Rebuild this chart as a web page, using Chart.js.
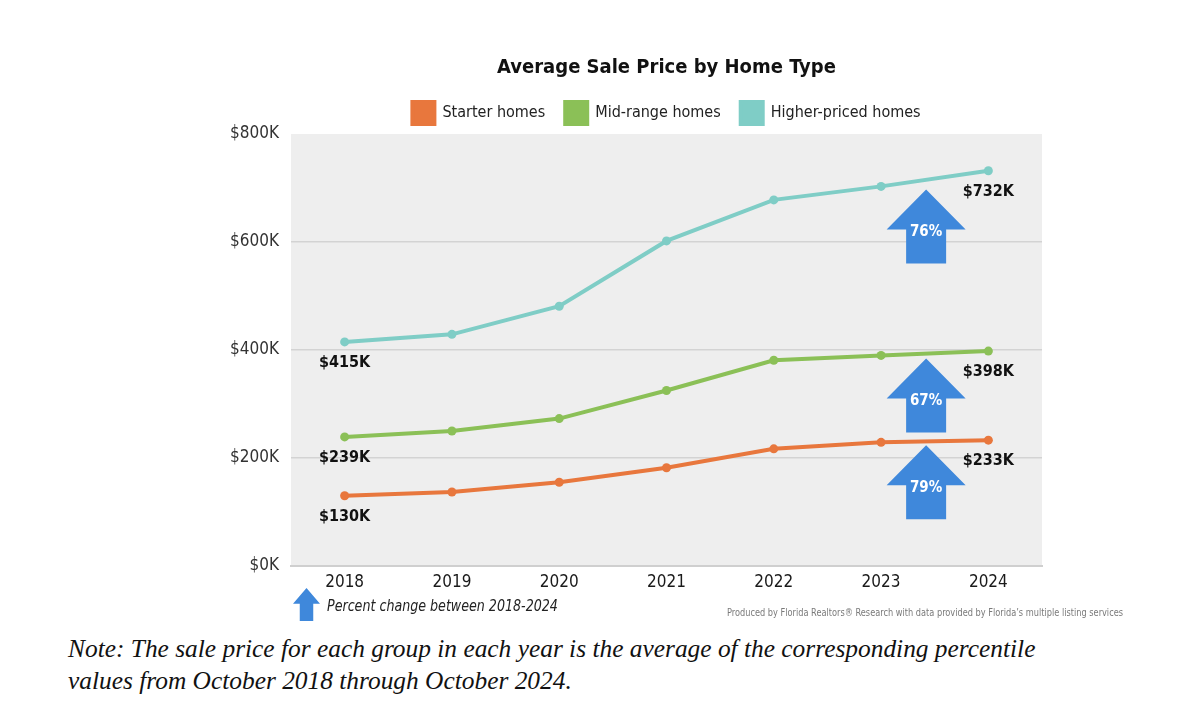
<!DOCTYPE html>
<html>
<head>
<meta charset="utf-8">
<script src="https://cdn.jsdelivr.net/npm/chart.js@4.4.1/dist/chart.umd.min.js"></script>
<style>
  html, body { margin: 0; padding: 0; background: #ffffff; }
  body { width: 1180px; height: 711px; position: relative; overflow: hidden; }
  #wrap { position: absolute; left: 0; top: 0; width: 1180px; height: 630px; }
  .narrow { font-family: 'Liberation Sans Narrow', 'Arial Narrow', 'DejaVu Sans Condensed', sans-serif; white-space: nowrap; transform-origin: 0 50%; }
  #pct { position: absolute; left: 327px; top: 596px; font-size: 16px; font-style: italic; color: #222; transform: scaleX(0.88); }
  #src { position: absolute; left: 727px; top: 606px; font-size: 10.5px; color: #7a7a7a; transform: scaleX(0.87); }
  #mini { position: absolute; left: 293px; top: 588px; width: 27px; height: 33px; background: #3f88db;
          clip-path: polygon(50% 0, 100% 48%, 75% 48%, 75% 100%, 25% 100%, 25% 48%, 0 48%); }
  #note { position: absolute; left: 68px; top: 632px; width: 1110px; font-family: 'Liberation Serif', 'Times New Roman', serif;
          font-style: italic; font-size: 25.4px; line-height: 32px; color: #111; white-space: nowrap; }
</style>
</head>
<body>
<div id="wrap"><canvas id="c"></canvas></div>
<div id="mini"></div>
<div id="pct" class="narrow">Percent change between 2018-2024</div>
<div id="src" class="narrow">Produced by Florida Realtors® Research with data provided by Florida’s multiple listing services</div>
<div id="note">Note: The sale price for each group in each year is the average of the corresponding percentile<br>values from October 2018 through October 2024.</div>
<script>
const years = ['2018', '2019', '2020', '2021', '2022', '2023', '2024'];
const starterHomes = [130, 137, 155, 182, 217, 229, 233];
const midRangeHomes = [239, 250, 273, 325, 381, 390, 398];
const higherPricedHomes = [415, 429, 481, 602, 678, 703, 732];
const seriesNames = ['Starter homes', 'Mid-range homes', 'Higher-priced homes'];
const yTicks = [0, 200, 400, 600, 800];

const NARROW = "'Liberation Sans Narrow', 'Arial Narrow', 'DejaVu Sans Condensed', sans-serif";
const COLORS = ['#e8773d', '#8bc057', '#7fcdc6'];
const ARROW_BLUE = '#3f88db';

const bgPlugin = {
  id: 'plotBg',
  beforeDraw(chart) {
    const { ctx, chartArea: a } = chart;
    ctx.save();
    ctx.fillStyle = '#eeeeee';
    ctx.fillRect(a.left, a.top, a.right - a.left, a.bottom - a.top);
    ctx.restore();
  }
};

// centre the title and legend over the plot area rather than the whole canvas
const centerHeaderPlugin = {
  id: 'centerHeader',
  afterLayout(chart) {
    const a = chart.chartArea;
    [chart.titleBlock, chart.legend].forEach(b => {
      if (b) { b.left = a.left; b.right = a.right; b.width = a.right - a.left; }
    });
  }
};

const annotPlugin = {
  id: 'annot',
  afterDatasetsDraw(chart) {
    const { ctx } = chart;
    const xs = chart.scales.x, ys = chart.scales.y;
    ctx.save();
    chart.data.datasets.forEach((ds) => {
      const d = ds.data;
      const n = d.length;
      ctx.fillStyle = '#111';
      ctx.font = 'bold 16px ' + NARROW;
      ctx.textAlign = 'center';
      ctx.textBaseline = 'middle';
      [0, n - 1].forEach(i => {
        const px = xs.getPixelForValue(i);
        const py = ys.getPixelForValue(d[i]);
        ctx.fillText('$' + d[i] + 'K', px, py + 21);
      });
      const p5 = xs.getPixelForValue(n - 2), p6 = xs.getPixelForValue(n - 1);
      const cx = p5 + 0.42 * (p6 - p5);
      const tip = ys.getPixelForValue(d[n - 2]) + 3;
      const headW = 79, headH = 40, shaftW = 40, totalH = 74;
      ctx.fillStyle = ARROW_BLUE;
      ctx.beginPath();
      ctx.moveTo(cx, tip);
      ctx.lineTo(cx + headW / 2, tip + headH);
      ctx.lineTo(cx + shaftW / 2, tip + headH);
      ctx.lineTo(cx + shaftW / 2, tip + totalH);
      ctx.lineTo(cx - shaftW / 2, tip + totalH);
      ctx.lineTo(cx - shaftW / 2, tip + headH);
      ctx.lineTo(cx - headW / 2, tip + headH);
      ctx.closePath();
      ctx.fill();
      const pct = Math.round((d[n - 1] / d[0] - 1) * 100);
      ctx.fillStyle = '#ffffff';
      ctx.font = 'bold 15px ' + NARROW;
      ctx.fillText(pct + '%', cx, tip + 43);
    });
    ctx.restore();
  }
};

new Chart(document.getElementById('c'), {
  type: 'line',
  data: {
    labels: years,
    datasets: [starterHomes, midRangeHomes, higherPricedHomes].map((vals, i) => ({
      label: seriesNames[i],
      data: vals,
      borderColor: COLORS[i],
      backgroundColor: COLORS[i],
      pointBackgroundColor: COLORS[i],
      pointBorderColor: COLORS[i],
      pointBorderWidth: 0,
      borderWidth: 4,
      pointRadius: 4.5,
      tension: 0,
      fill: false
    }))
  },
  options: {
    responsive: true,
    maintainAspectRatio: false,
    animation: false,
    devicePixelRatio: 1,
    layout: { padding: { left: 0, right: 138, top: 0, bottom: 34 } },
    font: { family: NARROW },
    plugins: {
      title: {
        display: true,
        text: 'Average Sale Price by Home Type',
        color: '#111',
        font: { family: NARROW, size: 20, weight: 'bold' },
        padding: { top: 56, bottom: 2 }
      },
      legend: {
        display: true,
        labels: {
          color: '#222',
          font: { family: NARROW, size: 16 },
          boxWidth: 22,
          boxHeight: 22,
          padding: 20
        }
      },
      tooltip: { enabled: false }
    },
    scales: {
      x: {
        offset: true,
        grid: { display: true, color: 'transparent', drawTicks: false },
        border: { display: true, color: '#cfcfcf', width: 2 },
        ticks: { color: '#1a1a1a', font: { family: NARROW, size: 17 }, padding: 6 },
        afterFit(scale) { scale.height = 30; }
      },
      y: {
        min: 0,
        max: 800,
        afterBuildTicks(scale) { scale.ticks = yTicks.map(v => ({ value: v })); },
        grid: {
          drawTicks: false,
          lineWidth: 1.5,
          color: (c) => (c.tick && (c.tick.value === 800 || c.tick.value === 0)) ? 'transparent' : '#d3d3d3'
        },
        border: { display: false },
        ticks: {
          color: '#333',
          font: { family: NARROW, size: 17 },
          padding: 12,
          callback: (v) => '$' + v + 'K'
        },
        afterFit(scale) { scale.width = 291; }
      }
    }
  },
  plugins: [bgPlugin, centerHeaderPlugin, annotPlugin]
});
</script>
</body>
</html>
